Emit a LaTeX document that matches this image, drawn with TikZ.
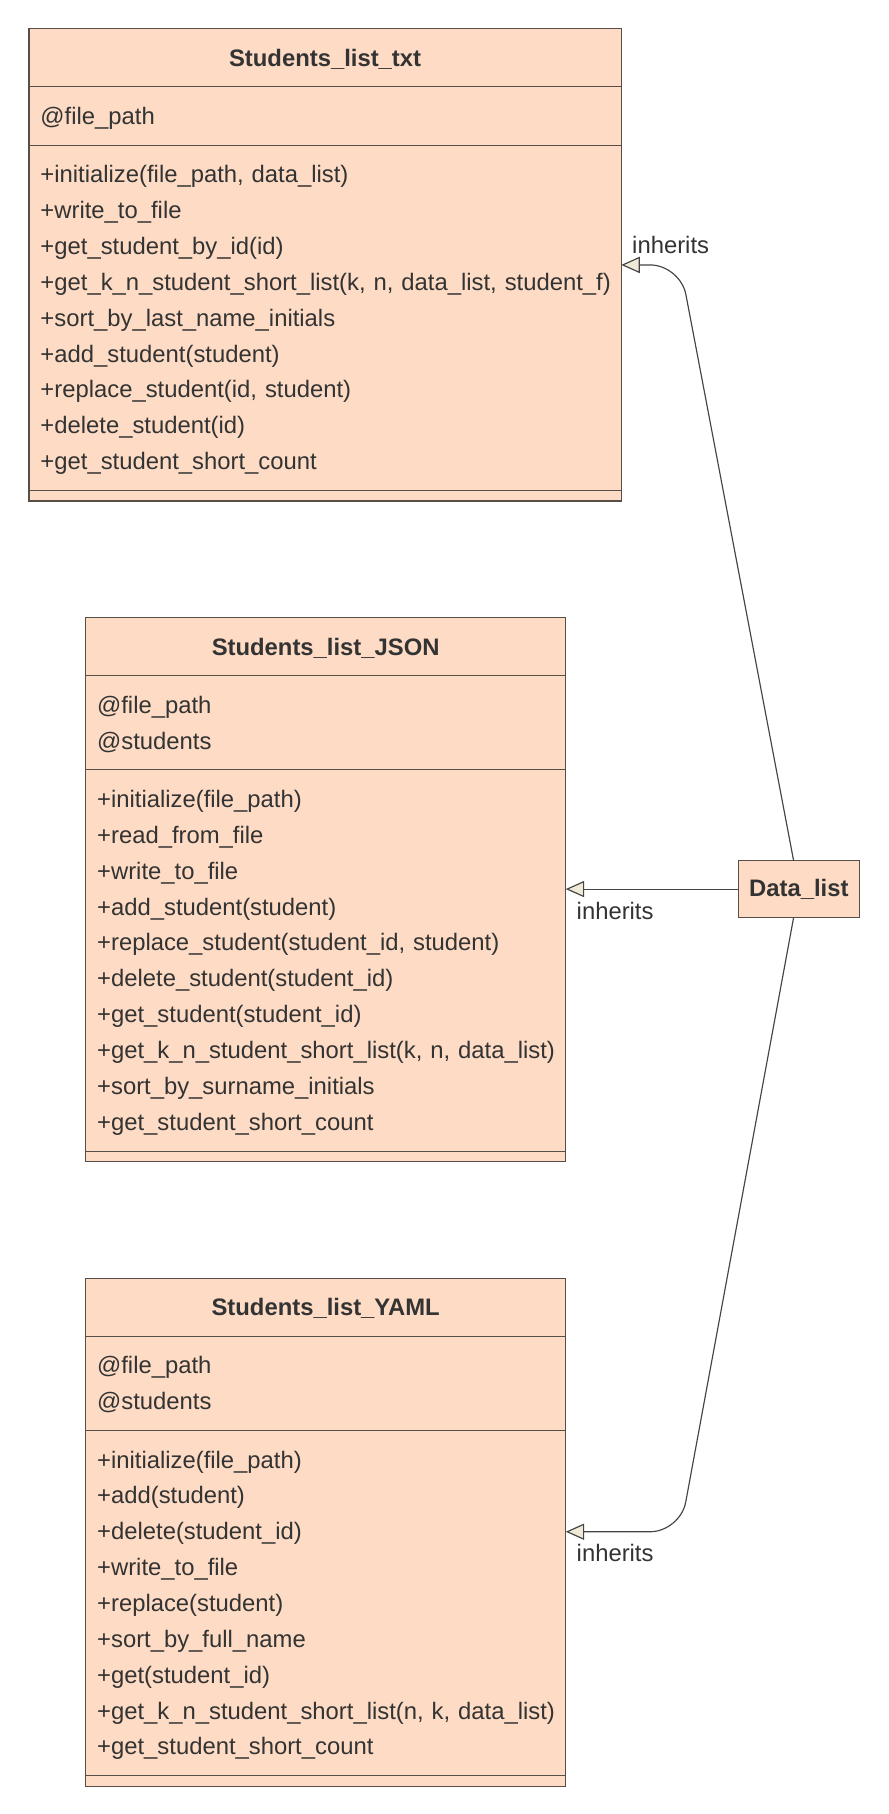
\documentclass[tikz,border=0pt]{standalone}
\usepackage{fontspec}
\setmainfont{Liberation Sans}
\usetikzlibrary{arrows.meta}

\definecolor{classfill}{RGB}{253,219,196}
\definecolor{classline}{RGB}{88,78,72}
\definecolor{textgray}{RGB}{51,51,51}
\definecolor{linkgray}{RGB}{68,68,68}
\definecolor{tipfill}{RGB}{238,234,214}

% one text row of a class compartment: fixed 31pt row pitch, never broken
\newcommand\rowstrut{\rule[-8.3pt]{0pt}{31pt}}
\newcommand\op[1]{\rowstrut\mbox{#1}}

\begin{document}
\begin{tikzpicture}[x=1pt,y=-1pt,
  every node/.style={text=textgray, font=\fontsize{20.6}{31}\selectfont},
  section/.style={draw=classline, fill=classfill, line width=1pt,
    outer sep=0pt, inner xsep=10pt, inner ysep=9.75pt, align=left, anchor=north},
  headcell/.style={section, font=\fontsize{20.6}{31}\selectfont\bfseries,
    align=center, inner ysep=0pt, minimum height=50pt},
  endcell/.style={section, inner ysep=0pt, minimum height=9pt},
  wide/.style={text width=492pt},
  narrow/.style={text width=395pt},
  inherit/.style={draw=linkgray, line width=1pt,
    -{Triangle[length=16pt, width=14pt, fill=tipfill]}},
  linklabel/.style={inner sep=0pt, text=textgray}
]
\useasboundingbox (0,0) rectangle (768,1568);

% ---------- Students_list_txt ----------
\node[headcell, wide, anchor=north west] (txth) at (25,25) {\rowstrut Students\_list\_txt};
\node[section, wide] (txta) at (txth.south) {\op{@file\_path}};
\node[section, wide] (txtm) at (txta.south) {%
  \op{+initialize(file\_path, data\_list)}\\
  \op{+write\_to\_file}\\
  \op{+get\_student\_by\_id(id)}\\
  \op{+get\_k\_n\_student\_short\_list(k, n, data\_list, student\_f)}\\
  \op{+sort\_by\_last\_name\_initials}\\
  \op{+add\_student(student)}\\
  \op{+replace\_student(id, student)}\\
  \op{+delete\_student(id)}\\
  \op{+get\_student\_short\_count}};
\node[endcell, wide] (txte) at (txtm.south) {};

% ---------- Students_list_JSON ----------
\node[headcell, narrow, anchor=north west] (jsonh) at (74,534) {\rowstrut Students\_list\_JSON};
\node[section, narrow] (jsona) at (jsonh.south) {%
  \op{@file\_path}\\
  \op{@students}};
\node[section, narrow] (jsonm) at (jsona.south) {%
  \op{+initialize(file\_path)}\\
  \op{+read\_from\_file}\\
  \op{+write\_to\_file}\\
  \op{+add\_student(student)}\\
  \op{+replace\_student(student\_id, student)}\\
  \op{+delete\_student(student\_id)}\\
  \op{+get\_student(student\_id)}\\
  \op{+get\_k\_n\_student\_short\_list(k, n, data\_list)}\\
  \op{+sort\_by\_surname\_initials}\\
  \op{+get\_student\_short\_count}};
\node[endcell, narrow] (jsone) at (jsonm.south) {};

% ---------- Students_list_YAML ----------
\node[headcell, narrow, anchor=north west] (yamlh) at (74,1105) {\rowstrut Students\_list\_YAML};
\node[section, narrow] (yamla) at (yamlh.south) {%
  \op{@file\_path}\\
  \op{@students}};
\node[section, narrow] (yamlm) at (yamla.south) {%
  \op{+initialize(file\_path)}\\
  \op{+add(student)}\\
  \op{+delete(student\_id)}\\
  \op{+write\_to\_file}\\
  \op{+replace(student)}\\
  \op{+sort\_by\_full\_name}\\
  \op{+get(student\_id)}\\
  \op{+get\_k\_n\_student\_short\_list(n, k, data\_list)}\\
  \op{+get\_student\_short\_count}};
\node[endcell, narrow] (yamle) at (yamlm.south) {};

% ---------- Data_list ----------
\node[draw=classline, fill=classfill, line width=1pt, outer sep=0pt, inner sep=0pt,
  minimum width=105pt, minimum height=49pt,
  font=\fontsize{20.6}{31}\selectfont\bfseries] (dl) at (690.5,768.5) {Data\_list};

% ---------- inheritance links ----------
\coordinate (bendtop) at (588,229);
\coordinate (bendbot) at (588,1324);

\draw[inherit, rounded corners=26pt] ([xshift=-4.5pt]dl.north) -- (bendtop) -- (bendtop -| txtm.east)
  node[linklabel, pos=1, anchor=south west, xshift=9pt, yshift=9pt] (lbltop) {inherits};

\draw[inherit] (dl.west) -- (dl.west -| jsonm.east)
  node[linklabel, pos=1, anchor=north west, xshift=9pt, yshift=-10.5pt] (lblmid) {inherits};

\draw[inherit, rounded corners=26pt] ([xshift=-4.5pt]dl.south) -- (bendbot) -- (bendbot -| yamlm.east)
  node[linklabel, pos=1, anchor=north west, xshift=9pt, yshift=-10.5pt] (lblbot) {inherits};
\end{tikzpicture}
\end{document}
